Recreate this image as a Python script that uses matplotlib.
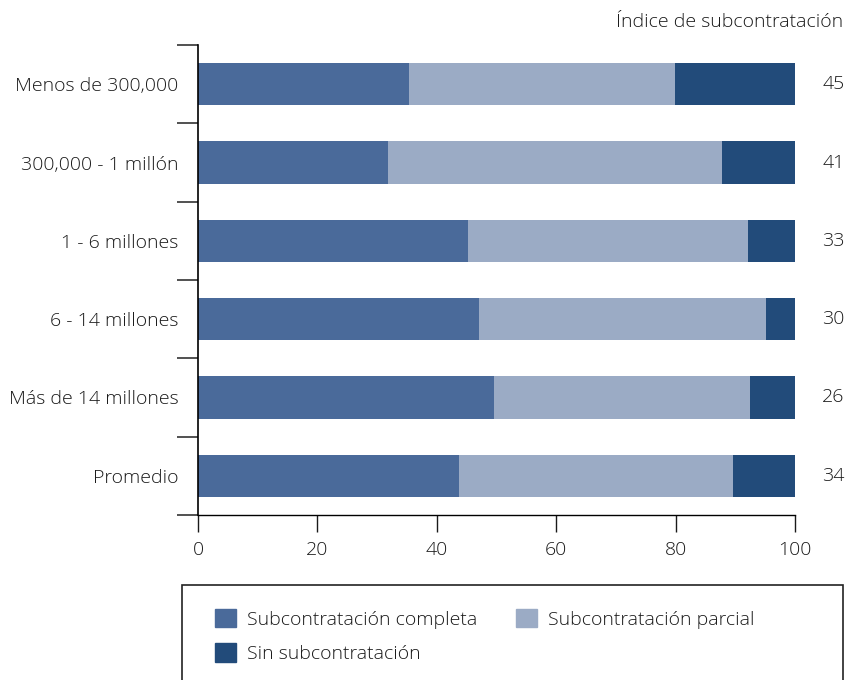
import numpy as np
import matplotlib.pyplot as plt
from matplotlib.patches import Rectangle, Patch

plt.rcParams['font.family'] = ['Open Sans', 'DejaVu Sans']
plt.rcParams['font.weight'] = 'light'

# Datos: porcentaje de empresas según tamaño de municipio
categorias = ['Menos de 300,000', '300,000 - 1 millón', '1 - 6 millones',
              '6 - 14 millones', 'Más de 14 millones', 'Promedio']
completa = [35.3, 31.9, 45.2, 47.1, 49.5, 43.8]
parcial = [44.6, 55.9, 46.9, 48.0, 42.9, 45.8]
sin_sub = [20.1, 12.2, 7.9, 4.9, 7.6, 10.4]
indice = [45, 41, 33, 30, 26, 34]

c_completa = '#4a6a9a'
c_parcial = '#9babc5'
c_sin = '#224b7a'
c_txt = '#1a1a1a'
fs = 14

fig = plt.figure(figsize=(8.46, 6.8), dpi=100)
ax = fig.add_axes([198/846, 1-515/680, (795-198)/846, (515-45)/680])

y = np.arange(len(categorias))
h = 0.54
ax.barh(y, completa, height=h, color=c_completa)
ax.barh(y, parcial, left=completa, height=h, color=c_parcial)
ax.barh(y, sin_sub, left=np.add(completa, parcial), height=h, color=c_sin)

ax.set_xlim(0, 100)
ax.set_ylim(len(categorias) - 0.5, -0.5)
ax.set_xticks(np.arange(0, 101, 20))
ax.set_yticks(y)
ax.set_yticklabels(categorias)
ax.set_yticks(np.arange(-0.5, len(categorias)), minor=True)
ax.tick_params(axis='y', which='major', length=0, pad=14, labelsize=fs, colors=c_txt)
ax.tick_params(axis='y', which='minor', length=15, width=1.2, color='#333333')
ax.tick_params(axis='x', length=12, width=1, pad=7, labelsize=fs, colors=c_txt)

for s in ['top', 'right']:
    ax.spines[s].set_visible(False)
ax.spines['left'].set_linewidth(1.2)
ax.spines['bottom'].set_linewidth(1.0)

# Índice de subcontratación a la derecha de cada barra
for yi, v in zip(y, indice):
    ax.text(1.064, yi, str(v), transform=ax.get_yaxis_transform(),
            ha='center', va='center', fontsize=fs, color=c_txt)
fig.text(843/846, 1-22/680, 'Índice de subcontratación', ha='right', va='center',
         fontsize=fs, color=c_txt)

# Recuadro de la leyenda
fig.patches.append(Rectangle((182/846, -0.01), (843-182)/846, 1.01-585/680,
                             transform=fig.transFigure, fill=False,
                             edgecolor='#222222', linewidth=1.2))
# orden por columnas para que se lea por filas
handles = [Patch(color=c_completa), Patch(color=c_sin), Patch(color=c_parcial)]
labels = ['Subcontratación completa', 'Sin subcontratación', 'Subcontratación parcial']
fig.legend(handles, labels, loc='upper left', bbox_to_anchor=(205/846, 1-599/680),
           ncol=2, frameon=False, fontsize=fs, handlelength=1.1, handleheight=1.1,
           handletextpad=0.55, columnspacing=2.0, labelspacing=0.75, borderpad=0,
           labelcolor=c_txt)

fig.savefig('out.png', dpi=100)
